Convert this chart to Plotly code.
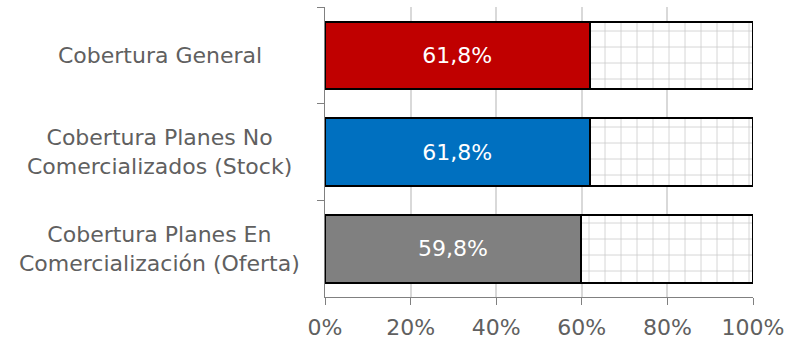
import plotly.graph_objects as go

categories = [
    "Cobertura General",
    "Cobertura Planes No<br>Comercializados (Stock)",
    "Cobertura Planes En<br>Comercialización (Oferta)",
]
coverage = [0.618, 0.618, 0.598]
bar_colors = ["#C00000", "#0070C0", "#808080"]
tick_vals = [0, 0.2, 0.4, 0.6, 0.8, 1.0]

remainder = [1 - v for v in coverage]
FONT = "DejaVu Sans"
TEXT_GRAY = "#606060"

fig = go.Figure()
fig.add_trace(go.Bar(
    y=categories, x=coverage, orientation="h",
    marker=dict(color=bar_colors, line=dict(color="#000000", width=2)),
    texttemplate="%{x:.1%}", textposition="inside", insidetextanchor="middle",
    textfont=dict(color="white", size=22, family=FONT),
    width=0.7, hoverinfo="skip",
))
fig.add_trace(go.Bar(
    y=categories, x=remainder, orientation="h",
    marker=dict(
        color="white",
        line=dict(color="#000000", width=2),
        pattern=dict(shape="+", fgcolor="#9A9A9A", bgcolor="white", size=16, solidity=0.1),
    ),
    width=0.7, hoverinfo="skip",
))

# centred category labels to the left of the plot
for cat in categories:
    fig.add_annotation(
        x=-0.386, xref="paper", y=cat, yref="y", text=cat, showarrow=False,
        align="center", xanchor="center", yanchor="middle",
        font=dict(family=FONT, size=22, color=TEXT_GRAY),
    )

fig.update_layout(
    barmode="stack",
    width=788, height=343,
    margin=dict(l=325, r=35, t=7, b=46),
    paper_bgcolor="white", plot_bgcolor="white",
    showlegend=False,
    separators=",.",
    bargap=0.3,
    font=dict(family=FONT, color=TEXT_GRAY),
)
fig.update_xaxes(
    range=[0, 1], tickvals=tick_vals, tickformat=".0%",
    showgrid=True, gridcolor="#D9D9D9", gridwidth=2,
    showline=True, linecolor="#808080", linewidth=1,
    ticks="outside", ticklen=7, tickcolor="#808080",
    ticklabelstandoff=4, automargin=False,
    tickfont=dict(family=FONT, size=22, color=TEXT_GRAY),
    zeroline=False,
)
fig.update_yaxes(
    categoryorder="array", categoryarray=categories, autorange="reversed",
    showticklabels=False, tickson="boundaries",
    ticks="outside", ticklen=7, tickcolor="#808080",
    showline=True, linecolor="#808080", linewidth=1,
    showgrid=False,
)

fig.write_html("out.html")
